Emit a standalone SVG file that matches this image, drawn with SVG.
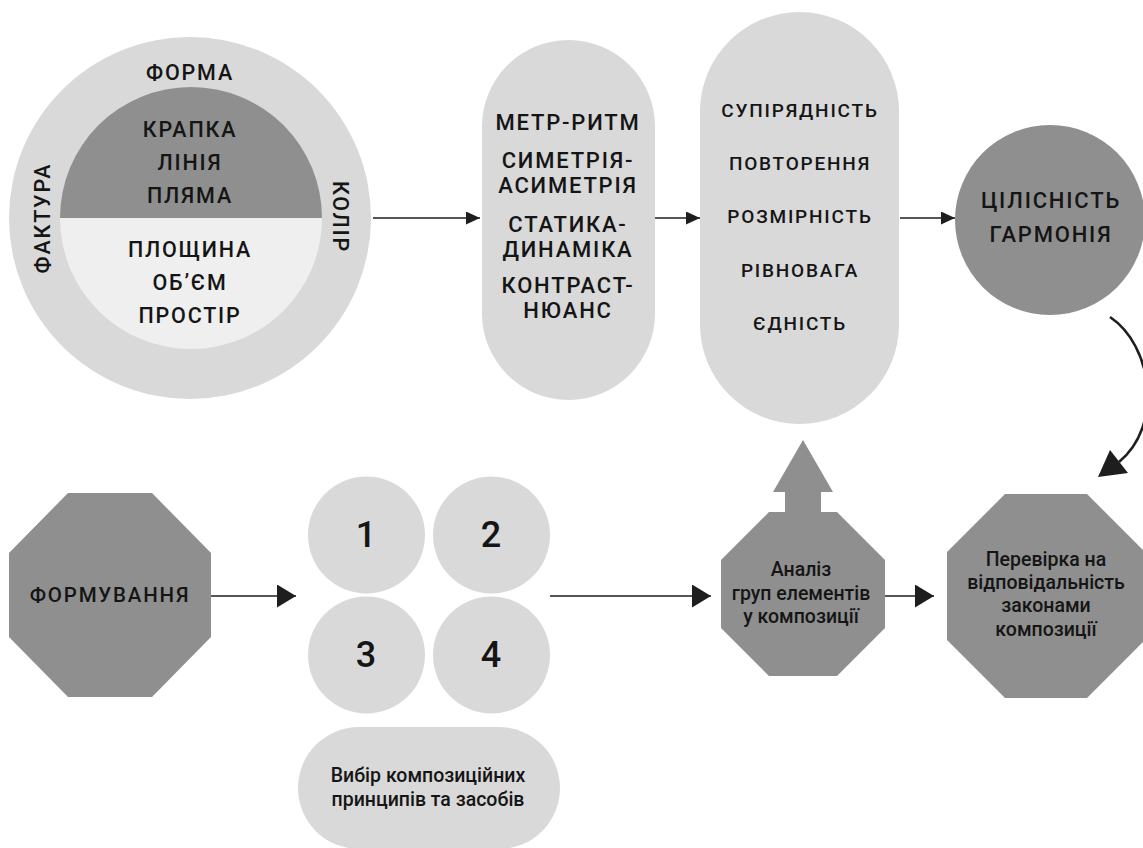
<svg xmlns="http://www.w3.org/2000/svg" width="1143" height="848" viewBox="0 0 1143 848">
<style>
.t{font-family:Roboto,"Noto Sans",sans-serif;font-weight:500;fill:#151515;text-anchor:middle}
.cap{font-size:21.5px;letter-spacing:1.8px}
.fm{font-size:20.5px;letter-spacing:1.8px}
.p1{font-size:22px;letter-spacing:1.8px}
.p2{font-size:19px;letter-spacing:1.8px}
.num{font-size:36px}
.lc{font-size:19.5px}
.dk{fill:#8f8f8f}
.lt{fill:#d9d9d9}
.ln{stroke:#1e1e1e;stroke-width:1.6;fill:none}
</style>
<defs>
<marker id="ah" markerUnits="userSpaceOnUse" markerWidth="14" markerHeight="13" refX="14" refY="6.5" orient="auto"><path d="M0,0 L14,6.5 L0,13 Z" fill="#1e1e1e"/></marker>
<marker id="ahb" markerUnits="userSpaceOnUse" markerWidth="19" markerHeight="23" refX="19" refY="11.5" orient="auto"><path d="M0,0 L19,11.5 L0,23 Z" fill="#1e1e1e"/></marker>
</defs>
<rect width="1143" height="848" fill="#ffffff"/>

<g id="elements">
<circle cx="190" cy="218" r="181" class="lt"/>
<path d="M60,218 A131,131 0 0 1 322,218 Z" class="dk"/>
<path d="M60,218 A131,131 0 0 0 322,218 Z" fill="#efefef"/>
<text class="t cap" x="190" y="80">ФОРМА</text>
<text class="t cap" x="190" y="137">КРАПКА</text>
<text class="t cap" x="190" y="170">ЛІНІЯ</text>
<text class="t cap" x="190" y="203">ПЛЯМА</text>
<text class="t cap" x="190" y="257">ПЛОЩИНА</text>
<text class="t cap" x="190" y="290">ОБ’ЄМ</text>
<text class="t cap" x="190" y="323">ПРОСТІР</text>
<text class="t cap" transform="translate(50,218) rotate(-90)">ФАКТУРА</text>
<text class="t cap" transform="translate(333,217) rotate(90)">КОЛІР</text>
</g>

<g id="means">
<rect x="482" y="40" width="173" height="360" rx="86.5" class="lt"/>
<text class="t p1" x="568" y="130">МЕТР-РИТМ</text>
<text class="t p1" x="568" y="168">СИМЕТРІЯ-</text>
<text class="t p1" x="568" y="193">АСИМЕТРІЯ</text>
<text class="t p1" x="568" y="232">СТАТИКА-</text>
<text class="t p1" x="568" y="257">ДИНАМІКА</text>
<text class="t p1" x="568" y="293">КОНТРАСТ-</text>
<text class="t p1" x="568" y="318">НЮАНС</text>
</g>

<g id="laws">
<rect x="700" y="12" width="199" height="412" rx="99.5" class="lt"/>
<text class="t p2" x="800" y="117">СУПІРЯДНІСТЬ</text>
<text class="t p2" x="800" y="170">ПОВТОРЕННЯ</text>
<text class="t p2" x="800" y="223">РОЗМІРНІСТЬ</text>
<text class="t p2" x="800" y="277">РІВНОВАГА</text>
<text class="t p2" x="800" y="330">ЄДНІСТЬ</text>
</g>

<g id="harmony">
<circle cx="1050" cy="220" r="95" class="dk"/>
<text class="t p1" x="1051" y="208">ЦІЛІСНІСТЬ</text>
<text class="t p1" x="1051" y="242">ГАРМОНІЯ</text>
</g>

<g id="forming">
<polygon points="68,493 152,493 211,553 211,637 152,697 68,697 9,637 9,553" class="dk"/>
<text class="t fm" x="110" y="602">ФОРМУВАННЯ</text>
</g>

<g id="choice">
<circle cx="366.5" cy="535" r="58.5" class="lt"/>
<circle cx="491.5" cy="535" r="58.5" class="lt"/>
<circle cx="366.5" cy="655" r="58.5" class="lt"/>
<circle cx="491.5" cy="655" r="58.5" class="lt"/>
<text class="t num" x="366" y="547">1</text>
<text class="t num" x="491" y="547">2</text>
<text class="t num" x="366" y="667">3</text>
<text class="t num" x="491" y="667">4</text>
<rect x="298" y="727" width="262" height="122" rx="61" class="lt"/>
<text class="t lc" x="428" y="782">Вибір композиційних</text>
<text class="t lc" x="428" y="806">принципів та засобів</text>
</g>

<g id="analysis">
<polygon points="769,512 785,512 785,492 773,492 803,440 833,492 821,492 821,512 837,512 885,560 885,628 837,676 769,676 721,628 721,560" class="dk"/>
<text class="t lc" x="801" y="576">Аналіз</text>
<text class="t lc" x="801" y="600">груп елементів</text>
<text class="t lc" x="801" y="623">у композиції</text>
</g>

<g id="check">
<polygon points="1005,494 1087,494 1145,552 1145,640 1087,698 1005,698 947,640 947,552" class="dk"/>
<text class="t lc" x="1046" y="566">Перевірка на</text>
<text class="t lc" x="1046" y="589">відповідальність</text>
<text class="t lc" x="1046" y="612">законами</text>
<text class="t lc" x="1046" y="636">композиції</text>
</g>

<g id="connectors">
<line x1="373" y1="218" x2="480" y2="218" class="ln" marker-end="url(#ah)"/>
<line x1="655" y1="218" x2="700" y2="218" class="ln" marker-end="url(#ah)"/>
<line x1="900" y1="218" x2="955" y2="218" class="ln" marker-end="url(#ah)"/>
<line x1="211" y1="596" x2="296" y2="596" class="ln" marker-end="url(#ahb)"/>
<line x1="550" y1="596" x2="711" y2="596" class="ln" marker-end="url(#ahb)"/>
<line x1="885" y1="596" x2="934" y2="596" class="ln" marker-end="url(#ahb)"/>
<path d="M1110,317 C1152,345 1164,425 1119,462" fill="none" stroke="#1e1e1e" stroke-width="2.6"/>
<polygon points="1098,477 1110,450 1128,473" fill="#1e1e1e"/>
</g>
</svg>
